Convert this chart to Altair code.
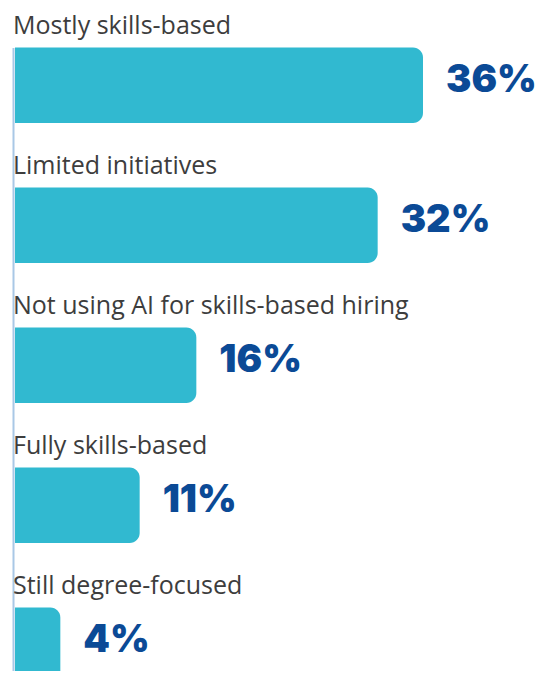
import altair as alt
import pandas as pd

categories = [
    "Mostly skills-based",
    "Limited initiatives",
    "Not using AI for skills-based hiring",
    "Fully skills-based",
    "Still degree-focused",
]
values = [36, 32, 16, 11, 4]
value_labels = ["36%", "32%", "16%", "11%", "4%"]

BAR_FRAC = 75.5 / 140  # bar thickness as fraction of row step

df = pd.DataFrame({"category": categories, "value": values, "label": value_labels})
df["row"] = range(len(df))

x_scale = alt.Scale(domain=[0, 36], range=[7, 415])
y_scale = alt.Scale(domain=[0, 5], range=[39.5, 739.5], nice=False, zero=False)

base = alt.Chart(df).transform_calculate(
    row_end=f"datum.row + {BAR_FRAC}",
    row_mid=f"datum.row + {BAR_FRAC / 2}",
)

bars = base.mark_bar(color="#31b9d0", cornerRadiusTopRight=10, cornerRadiusBottomRight=10).encode(
    x=alt.X("value:Q", scale=x_scale, axis=None),
    x2=alt.datum(0),
    y=alt.Y("row:Q", scale=y_scale,
            axis=alt.Axis(title=None, labels=False, ticks=False, grid=False,
                          domain=True, domainColor="#a9c8e6", domainWidth=2, offset=-5)),
    y2="row_end:Q",
)

cat_text = base.mark_text(
    align="left", baseline="alphabetic", dy=-14, x=5,
    font="Open Sans", fontSize=25, color="#3d3d3d",
).encode(
    y=alt.Y("row:Q", scale=y_scale),
    text="category:N",
)

val_text = base.mark_text(
    align="left", baseline="alphabetic", dx=23, dy=6.5,
    font="Inter", fontSize=38, fontWeight=900, color="#0b4a96",
).encode(
    x=alt.X("value:Q", scale=x_scale),
    y=alt.Y("row_mid:Q", scale=y_scale),
    text="label:N",
)

chart = alt.layer(bars, cat_text, val_text).properties(
    width=533, height=663, padding=0,
    autosize=alt.AutoSizeParams(type="none"),
).configure_view(stroke=None)

chart.save("out.html", embed_options={"renderer": "svg", "actions": False})
